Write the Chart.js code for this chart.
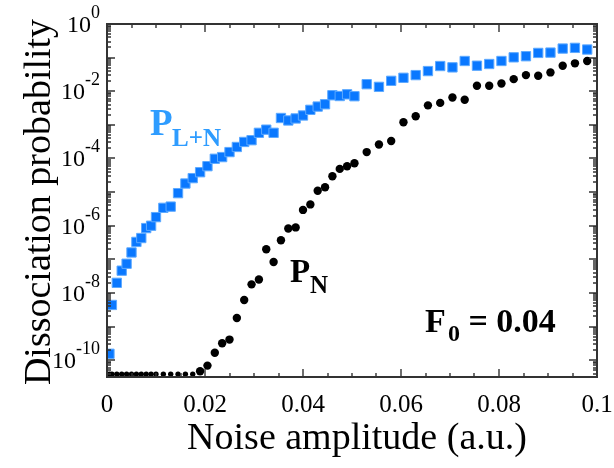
<!DOCTYPE html>
<html><head><meta charset="utf-8">
<script src="https://cdn.jsdelivr.net/npm/chart.js@4.4.1/dist/chart.umd.min.js"></script>
<style>html,body{margin:0;padding:0;background:#fff;overflow:hidden;} #wrap{width:614px;height:468px;}</style>
</head><body><div id="wrap"><canvas id="c" width="614" height="468"></canvas></div>
<script>
// Noise amplitude grid (a.u.)
const noiseAmplitude = [
  0.0005, 0.001, 0.002, 0.003, 0.004, 0.005, 0.006, 0.007, 0.008, 0.009, 0.010,
  0.0115, 0.013, 0.0145, 0.016, 0.0175, 0.019, 0.0205, 0.022, 0.0235, 0.025,
  0.0265, 0.028, 0.0295, 0.031, 0.0325, 0.034, 0.0355, 0.037, 0.0385, 0.040,
  0.0415, 0.043, 0.0445, 0.046, 0.0475, 0.049, 0.0505,
  0.053, 0.0555, 0.058, 0.0605, 0.063, 0.0655, 0.068, 0.0705, 0.073, 0.0755,
  0.078, 0.0805, 0.083, 0.0855, 0.088, 0.0905, 0.093, 0.0955, 0.098
];
// P_{L+N} (blue squares)
const probLN = [
  1.55e-10, 4.4e-9, 2.0e-8, 4.6e-8, 7.4e-8, 1.6e-7, 3.3e-7, 4.3e-7, 8.5e-7, 1.0e-6,
  1.8e-6, 3.4e-6, 3.7e-6, 9.3e-6, 1.8e-5, 2.6e-5, 3.9e-5, 5.9e-5, 9.8e-5, 1.1e-4,
  1.55e-4, 2.2e-4, 3.1e-4, 3.5e-4, 5.8e-4, 7.2e-4, 5.8e-4, 1.6e-3, 1.35e-3, 1.55e-3,
  1.9e-3, 2.8e-3, 3.5e-3, 4.1e-3, 7.6e-3, 7.2e-3, 8.1e-3, 7.1e-3,
  0.0162, 0.0135, 0.0204, 0.0251, 0.0302, 0.0398, 0.0562, 0.0513, 0.0794, 0.0575,
  0.0646, 0.0794, 0.102, 0.110, 0.138, 0.141, 0.186, 0.195, 0.174
];
// P_N (black dots)
const probN = [
  3.8e-11, 3.8e-11, 3.8e-11, 3.8e-11, 3.8e-11, 3.8e-11, 3.8e-11, 3.8e-11, 3.8e-11, 3.8e-11,
  3.8e-11, 3.8e-11, 3.8e-11, 3.8e-11, 3.8e-11, 3.8e-11,
  4.7e-11, 6.9e-11, 1.66e-10, 3.2e-10, 4.1e-10, 1.8e-9, 6.2e-9, 1.8e-8, 2.5e-8, 2.0e-7,
  8.3e-8, 3.7e-7, 8.3e-7, 8.9e-7, 2.95e-6, 4.3e-6, 1.1e-5, 1.4e-5, 2.95e-5, 4.9e-5,
  5.9e-5, 7.2e-5, 1.55e-4, 2.6e-4, 3.3e-4, 1.2e-3, 1.8e-3, 3.8e-3, 4.5e-3, 6.5e-3,
  5.6e-3, 0.0145, 0.0145, 0.017, 0.0229, 0.0302, 0.0288, 0.0363, 0.0575, 0.0676, 0.0794
];
const xTickValues = [0, 0.02, 0.04, 0.06, 0.08, 0.1];
const xTickLabels = ['0', '0.02', '0.04', '0.06', '0.08', '0.1'];
const xMinorStep = 0.005;
const yTickExponents = [0, -2, -4, -6, -8, -10];
const yTickLabelBase = '10';
const xTitle = 'Noise amplitude (a.u.)';
const yTitle = 'Dissociation probability';
const xMin = 0, xMax = 0.1;
const yMin = Math.pow(10, -10.5), yMax = 1;

const SERIF = '"Liberation Serif", "DejaVu Serif", serif';
const AXIS = '#333';

const xAllTicks = [];
for (let k = 0; k <= Math.round((xMax - xMin) / xMinorStep); k++) xAllTicks.push(+(k * xMinorStep).toFixed(4));
const yAllTicks = [];
for (let e = -11; e <= 0; e++) for (let m = 1; m <= 9; m++) {
  const v = m * Math.pow(10, e);
  if (v >= yMin && v <= yMax * 1.0001) yAllTicks.push(v);
}
const isXMajor = v => Math.abs(v / 0.02 - Math.round(v / 0.02)) < 1e-6;
const isYMajor = v => Math.abs(Math.log10(v) - Math.round(Math.log10(v))) < 1e-6;

function box(ctx, x0, y0, w, h) {
  ctx.moveTo(x0, y0); ctx.lineTo(x0 + w, y0); ctx.lineTo(x0 + w, y0 + h); ctx.lineTo(x0, y0 + h); ctx.closePath();
}

// frame and inward tick marks, placed through the library's scales
function drawFrame(chart) {
  const ctx = chart.ctx, x = chart.scales.x, y = chart.scales.y;
  const L = Math.round(x.getPixelForValue(xMin));
  const R = Math.round(x.getPixelForValue(xMax));
  const T = Math.round(y.getPixelForValue(yMax));
  const B = Math.round(y.getPixelForValue(yMin));
  ctx.save();
  ctx.fillStyle = AXIS;
  ctx.beginPath();
  box(ctx, L - 1, T - 1, R - L + 2, 2);
  box(ctx, L - 1, B - 1, R - L + 2, 2);
  box(ctx, L - 1, T - 1, 2, B - T + 2);
  box(ctx, R - 1, T - 1, 2, B - T + 2);
  xAllTicks.forEach(v => {
    const px = Math.round(x.getPixelForValue(v));
    const len = isXMajor(v) ? 8 : 4;
    box(ctx, px - 0.7, B - len, 1.4, len);
    box(ctx, px - 0.7, T, 1.4, len);
  });
  yAllTicks.forEach(v => {
    const py = Math.round(y.getPixelForValue(v));
    const len = isYMajor(v) ? 8 : 4;
    box(ctx, L, py - 0.7, len, 1.4);
    box(ctx, R - len, py - 0.7, len, 1.4);
  });
  ctx.fill();
  ctx.restore();
}

const decor = {
  id: 'decor',
  afterDraw(chart) {
    drawFrame(chart);
    const ctx = chart.ctx, x = chart.scales.x, y = chart.scales.y;
    ctx.save();
    ctx.fillStyle = '#000';
    ctx.textBaseline = 'alphabetic';
    ctx.font = '25px ' + SERIF;
    ctx.textAlign = 'center';
    xTickValues.forEach((v, i) => {
      ctx.fillText(xTickLabels[i], x.getPixelForValue(v), 412);
    });
    yTickExponents.forEach(ex => {
      const py = y.getPixelForValue(Math.pow(10, ex));
      const right = 100;
      ctx.font = '18px ' + SERIF;
      ctx.textAlign = 'right';
      const expStr = String(ex);
      const ew = ctx.measureText(expStr).width;
      ctx.fillText(expStr, right, py - 6);
      ctx.font = '24px ' + SERIF;
      ctx.fillText(yTickLabelBase, right - ew, py + 8);
    });
    ctx.font = '38px ' + SERIF;
    ctx.textAlign = 'center';
    ctx.fillText(xTitle, 357, 449);
    ctx.save();
    ctx.translate(50, 202);
    ctx.rotate(-Math.PI / 2);
    ctx.fillText(yTitle, 0, 0);
    ctx.restore();
    ctx.textAlign = 'left';
    ctx.fillStyle = '#2e9cff';
    ctx.font = 'bold 37px ' + SERIF;
    ctx.fillText('P', 150, 135);
    ctx.font = 'bold 25px ' + SERIF;
    ctx.fillText('L+N', 172, 146);
    ctx.fillStyle = '#000';
    ctx.font = 'bold 33px ' + SERIF;
    ctx.fillText('P', 290, 282);
    ctx.font = 'bold 25px ' + SERIF;
    ctx.fillText('N', 310, 293);
    ctx.font = 'bold 34px ' + SERIF;
    ctx.fillText('F', 425, 332);
    ctx.font = 'bold 24px ' + SERIF;
    ctx.fillText('0', 448, 341);
    ctx.font = 'bold 34px ' + SERIF;
    ctx.fillText(' = 0.04', 460, 332);
    ctx.restore();
  }
};

const setXTicks = s => { s.ticks = xAllTicks.map(v => ({value: v})); };
const setYTicks = s => { s.ticks = yAllTicks.map(v => ({value: v})); };

new Chart(document.getElementById('c'), {
  type: 'scatter',
  data: {
    datasets: [
      {
        label: 'P_L+N',
        data: noiseAmplitude.map((v, i) => ({x: v, y: probLN[i]})),
        xAxisID: 'x', yAxisID: 'y',
        pointStyle: 'rect',
        pointRadius: 6.6,
        backgroundColor: '#0a78ff',
        borderColor: '#5eaaff',
        borderWidth: 1,
        order: 2
      },
      {
        label: 'P_N',
        data: noiseAmplitude.map((v, i) => ({x: v, y: probN[i]})),
        xAxisID: 'x', yAxisID: 'y',
        pointStyle: 'circle',
        pointRadius: c => (c.raw && c.raw.y < 4.2e-11) ? 2.7 : 4.2,
        backgroundColor: '#000',
        borderColor: '#000',
        borderWidth: 0,
        order: 1
      }
    ]
  },
  options: {
    responsive: false,
    animation: false,
    devicePixelRatio: 1,
    layout: {padding: {left: 0, right: 17, top: 24, bottom: 0}},
    plugins: {legend: {display: false}, tooltip: {enabled: false}},
    scales: {
      x: {
        type: 'linear', position: 'bottom', min: xMin, max: xMax,
        afterBuildTicks: setXTicks,
        afterFit: s => { s.height = 91; },
        ticks: {display: false, autoSkip: false},
        grid: {display: false},
        border: {display: true, color: AXIS, width: 1.5}
      },
      y: {
        type: 'logarithmic', position: 'left', min: yMin, max: yMax,
        afterBuildTicks: setYTicks,
        afterFit: s => { s.width = 107; },
        ticks: {display: false, autoSkip: false},
        grid: {display: false},
        border: {display: true, color: AXIS, width: 1.5}
      }
    }
  },
  plugins: [decor]
});
</script>
</body></html>
